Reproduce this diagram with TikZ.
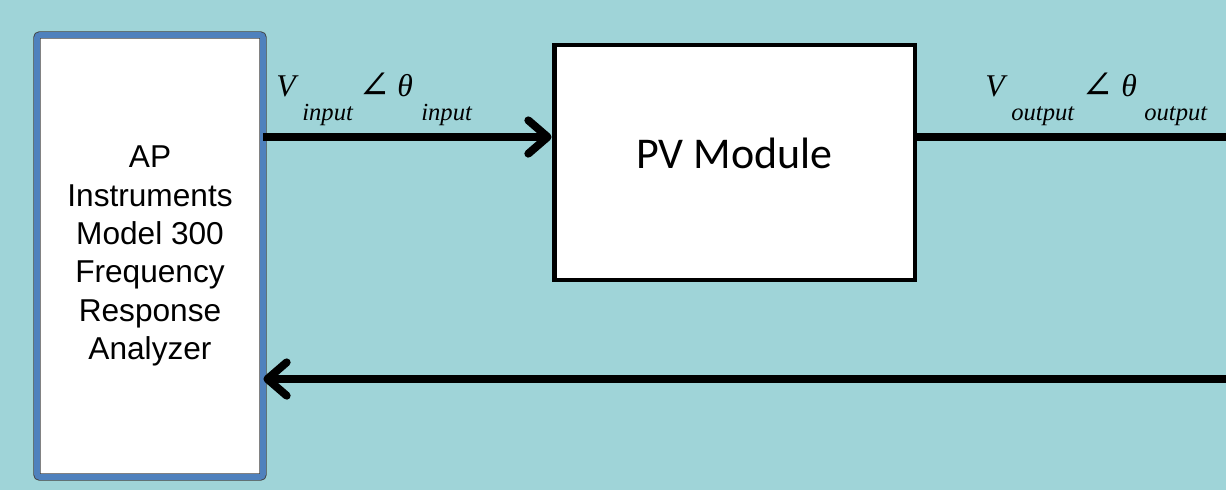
\RequirePackage{fix-cm}
\documentclass[tikz,border=0pt]{standalone}
\usepackage{fontspec}
\usepackage{xcolor}
\usepackage{tikz}
\usetikzlibrary{arrows.meta,positioning}

\newfontfamily\arialfont{Liberation Sans}
\newfontfamily\calibrifont{Carlito}
\newfontfamily\timesfont{Liberation Serif}
\newfontfamily\anglefont{DejaVu Serif}
\definecolor{bgteal}{RGB}{159,212,216}
\definecolor{frameblue}{RGB}{79,129,189}

\begin{document}
\begin{tikzpicture}[
    x=0.02cm, y=-0.02cm,
    analyzer/.style={rectangle, draw=black!75, double=frameblue, double distance=3.2pt, line width=0.5pt, fill=white, rounded corners=1.5pt, minimum width=4.52cm, minimum height=8.84cm, align=center, font=\arialfont\fontsize{18pt}{21.8pt}\selectfont},
    block/.style={rectangle, draw, line width=2.8pt, fill=white, minimum width=7.22cm, minimum height=4.7cm, font=\calibrifont\fontsize{25pt}{30pt}\selectfont},
    signal/.style={-{Straight Barb[length=11pt, width=19pt, line width=4.5pt, round]}, line width=5pt},
    wire/.style={line width=5pt},
    sym/.style={anchor=base west, inner sep=0pt, font=\timesfont\itshape\fontsize{18pt}{20pt}\selectfont},
    angle sym/.style={anchor=base west, inner sep=0pt, font=\anglefont\fontsize{22pt}{26pt}\selectfont},
    sub/.style={anchor=base west, inner sep=0pt, font=\timesfont\itshape\fontsize{14pt}{16pt}\selectfont}
]
    \useasboundingbox (0,0) rectangle (1226,490);
    \fill[bgteal] (0,0) rectangle (1226,490);

    \node[analyzer] (fra) at (150,256) {AP\\Instruments\\Model 300\\Frequency\\Response\\Analyzer};
    \node[block] (pv) at (734.5,162.5) {\raisebox{10.5pt}{PV Module}};

    \coordinate (inlev) at (0,137);
    \coordinate (outend) at (1226,137);
    \coordinate (retstart) at (1226,379);

    \draw[signal] (fra.east |- inlev) -- (pv.west |- inlev);
    \draw[wire] (pv.east |- inlev) -- (outend);
    \draw[signal] (retstart) -- (fra.east |- retstart);

    % input phasor
    \node[sym] (vin) at (276,96) {V};
    \node[sub] (vinsub) at (302,120) {input};
    \node[angle sym] (angin) at (358,98) {∠};
    \node[sym] (thin) at (397,96) {θ};
    \node[sub] (thinsub) at (421,120) {input};

    % output phasor
    \node[sym] (vout) at (985,96) {V};
    \node[sub] (voutsub) at (1011,120) {output};
    \node[angle sym] (angout) at (1081,98) {∠};
    \node[sym] (thout) at (1121,96) {θ};
    \node[sub] (thoutsub) at (1144,120) {output};
\end{tikzpicture}
\end{document}
